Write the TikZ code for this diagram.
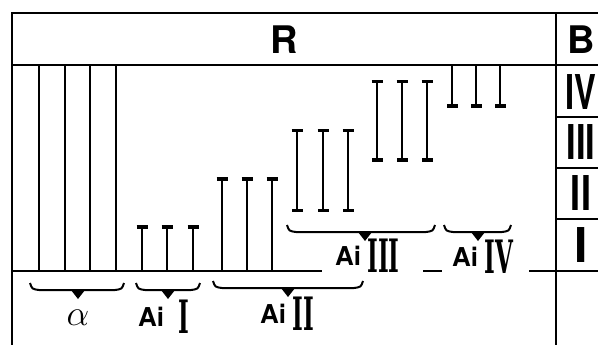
\documentclass[tikz,border=0pt]{standalone}
\usepackage{fontspec}
\usepackage{amsmath}
\newfontfamily\heros{TeX Gyre Heros}
\newfontfamily\slab{DejaVu Serif}
\usetikzlibrary{arrows.meta,positioning}

% narrow roman numerals
\newcommand{\narrow}[2][0.5]{\scalebox{#1}[1]{#2}}
% brace under a group: left x, right x, y, tip x
\newcommand{\gbrace}[4]{%
  \draw[brline] (#1,#3-7) .. controls (#1+2,#3-1) .. (#1+9,#3) -- (#2-9,#3)
    .. controls (#2-2,#3-1) .. (#2,#3-7);
  \fill (#4-7,#3) -- (#4,#3+9) -- (#4+7,#3) -- cycle;}

\begin{document}
\begin{tikzpicture}[x=1pt, y=-1pt,
  frame/.style={line width=2.5pt},
  brline/.style={line width=2pt},
  plain/.style={line width=2.6pt},
  topcap/.style={line width=2.6pt, {Bar[width=11pt,line width=3.5pt]}-},
  botcap/.style={line width=2.6pt, -{Bar[width=11pt,line width=3.5pt]}},
  bothcap/.style={line width=2.6pt, {Bar[width=11pt,line width=3.5pt]}-{Bar[width=11pt,line width=3.5pt]}},
  head/.style={font=\heros\bfseries\fontsize{38}{38}\selectfont, inner sep=0pt},
  rownum/.style={font=\heros\bfseries\fontsize{48}{48}\selectfont, inner sep=0pt},
  ai/.style={font=\heros\bfseries\fontsize{26}{26}\selectfont, inner sep=0pt},
  num/.style={font=\slab\bfseries\fontsize{46}{46}\selectfont, inner sep=0pt}]
  \useasboundingbox (0,0) rectangle (598,345);
  % frame and table
  \draw[frame] (12,345) -- (12,13) -- (598,13);
  \draw[frame] (12,65) -- (598,65);
  \draw[frame] (556,13) -- (556,345);
  \foreach \y in {117,168,219}
    \draw[frame] (556,\y) -- (598,\y);
  % baseline
  \draw[frame] (12,271) -- (322,271);
  \draw[frame] (423,271) -- (442,271);
  \draw[frame] (529,271) -- (598,271);
  % headers
  \node[head] (hR) at (284,40) {R};
  \node[head] (hB) at (581,40) {B};
  \node[rownum] (rIV)  at (581,92)  {\narrow[0.68]{IV}};
  \node[rownum] (rIII) at (581,142) {\narrow[0.72]{III}};
  \node[rownum] (rII)  at (581,193) {\narrow[0.75]{II}};
  \node[rownum] (rI)   at (581,245) {I};
  % alpha lines
  \foreach \x in {39,65,90,116}
    \draw[plain] (\x,65) -- (\x,271);
  % Ai I, Ai II
  \foreach \x in {142,167,193}
    \draw[topcap] (\x,225) -- (\x,271);
  \foreach \x in {222,247,272}
    \draw[topcap] (\x,177) -- (\x,271);
  % Ai III
  \foreach \x in {297,323,348}
    \draw[bothcap] (\x,129) -- (\x,212);
  \foreach \x in {377,402,427}
    \draw[bothcap] (\x,80) -- (\x,162);
  % Ai IV
  \foreach \x in {452,476,500}
    \draw[botcap] (\x,65) -- (\x,108);
  % braces
  \gbrace{30}{124}{290}{78}
  \gbrace{136}{200}{290}{168}
  \gbrace{213}{363}{288}{288}
  \gbrace{287}{435}{232}{365}
  \gbrace{444}{511}{232}{478}
  % labels
  \node (lAlpha) at (78,318) {\scalebox{2.5}{\Large$\alpha$}};
  \node[ai] (aiI) at (151,317) {Ai};
  \node[num, right=14pt of aiI] (nI) {\narrow{I}};
  \node[ai] (aiII) at (273,314) {Ai};
  \node[num, right=6pt of aiII] (nII) {\narrow{II}};
  \node[ai] (aiIII) at (348,256) {Ai};
  \node[num, right=6pt of aiIII] (nIII) {\narrow{III}};
  \node[ai] (aiIV) at (465,257) {Ai};
  \node[num, right=6pt of aiIV] (nIV) {\narrow{IV}};
\end{tikzpicture}
\end{document}
